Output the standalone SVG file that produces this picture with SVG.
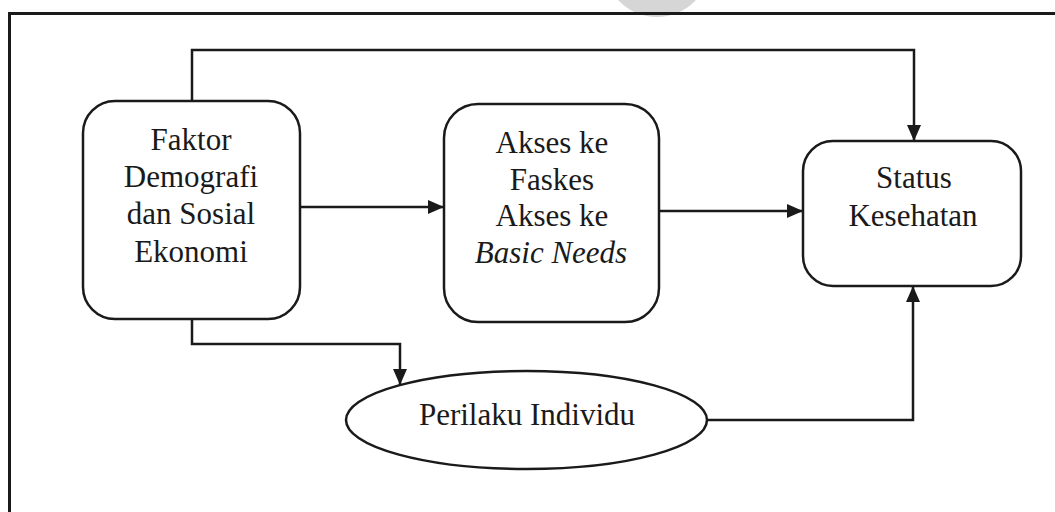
<svg xmlns="http://www.w3.org/2000/svg" width="1055" height="512" viewBox="0 0 1055 512">
  <style>
    .box { fill: #ffffff; stroke: #1a1a1a; stroke-width: 2.5; }
    .lbl { font-family: "Liberation Serif", "Times New Roman", serif; font-size: 31px; fill: #1a1a1a; text-anchor: middle; }
    .it { font-style: italic; }
    .wire { fill: none; stroke: #1a1a1a; stroke-width: 2.5; }
  </style>
  <defs>
    <marker id="arrow" viewBox="0 0 16 14" refX="16" refY="7" markerWidth="16" markerHeight="14" markerUnits="userSpaceOnUse" orient="auto">
      <path d="M0,0 L16,7 L0,14 Z" fill="#1a1a1a"/>
    </marker>
  </defs>

  <rect width="1055" height="512" fill="#ffffff"/>

  <!-- faint grey mark at top edge -->
  <circle cx="657" cy="-36" r="53" fill="#d6d6d6"/>

  <!-- frame: only the top and left edges are drawn -->
  <path d="M9.5,512 V13.5 H1055" fill="none" stroke="#1a1a1a" stroke-width="3"/>

  <g id="connectors">
    <path class="wire" d="M192,101 V50 H914 V141" marker-end="url(#arrow)"/>
    <path class="wire" d="M300,207 H444" marker-end="url(#arrow)"/>
    <path class="wire" d="M659,211 H803" marker-end="url(#arrow)"/>
    <path class="wire" d="M192,319 V344 H400 V385" marker-end="url(#arrow)"/>
    <path class="wire" d="M707,420 H913 V286" marker-end="url(#arrow)"/>
  </g>

  <g id="faktor">
    <rect class="box" x="83" y="101" width="217" height="218" rx="32" ry="32"/>
    <text class="lbl" x="191" y="150">Faktor</text>
    <text class="lbl" x="191" y="187">Demografi</text>
    <text class="lbl" x="191" y="224">dan Sosial</text>
    <text class="lbl" x="191" y="262">Ekonomi</text>
  </g>

  <g id="akses">
    <rect class="box" x="444" y="104" width="215" height="218" rx="34" ry="34"/>
    <text class="lbl" x="552" y="153">Akses ke</text>
    <text class="lbl" x="552" y="190">Faskes</text>
    <text class="lbl" x="552" y="226">Akses ke</text>
    <text class="lbl it" x="551" y="263">Basic Needs</text>
  </g>

  <g id="status">
    <rect class="box" x="803" y="141" width="218" height="145" rx="30" ry="30"/>
    <text class="lbl" x="914" y="188">Status</text>
    <text class="lbl" x="913" y="226">Kesehatan</text>
  </g>

  <g id="perilaku">
    <ellipse class="box" cx="526.5" cy="420" rx="180.5" ry="49"/>
    <text class="lbl" x="527" y="425">Perilaku Individu</text>
  </g>
</svg>
